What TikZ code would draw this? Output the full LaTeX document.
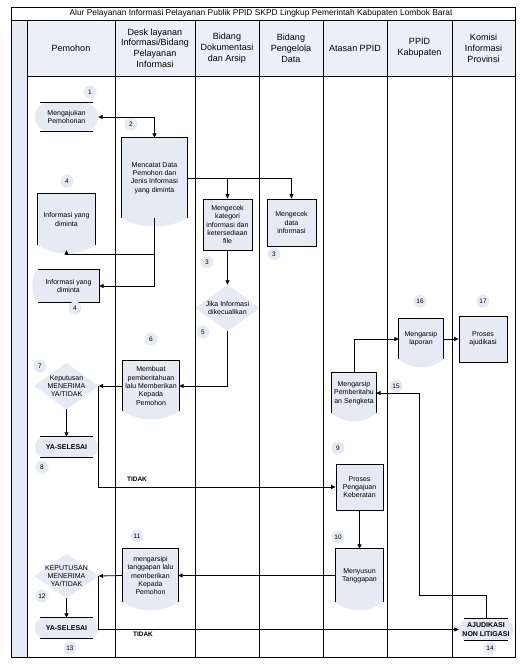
\documentclass[tikz,border=0pt]{standalone}
\usepackage{fontspec}
\setmainfont{Liberation Sans}
\usetikzlibrary{arrows.meta,calc,backgrounds}
\definecolor{lite}{RGB}{230,234,245}
\definecolor{hdrfill}{RGB}{236,239,248}
\newcommand\docshape[1]{%
  \begin{scope}[on background layer]
    \fill[lite] (#1.north west) -- (#1.north east) -- (#1.south east)
      .. controls ($(#1.south east)!0.3!(#1.south west)+(0,11)$) and ($(#1.south east)!0.7!(#1.south west)+(0,11)$) .. (#1.south west) -- cycle;
  \end{scope}
  \draw[ln] (#1.south west) -- (#1.north west) -- (#1.north east) -- (#1.south east);}
\newcommand\termshape[2]{%
  \begin{scope}[on background layer]
    \fill[lite, rounded corners=#2] (#1.north west) rectangle (#1.south east);
  \end{scope}
  \draw[ln] ($(#1.north west)+(5,0)$) -- ($(#1.north east)+(-5,0)$);
  \draw[ln] ($(#1.south west)+(5,0)$) -- ($(#1.south east)+(-5,0)$);}
\newcommand\diashape[1]{%
  \begin{scope}[on background layer]
    \fill[lite] (#1.west) -- (#1.north) -- (#1.east) -- (#1.south) -- cycle;
  \end{scope}}
\newcommand\leftbulge[1]{%
  \begin{scope}[on background layer]
    \fill[lite] (#1.north west) -- (#1.north east) -- (#1.south east) -- (#1.south west)
      .. controls ($(#1.south west)+(-7,0)$) and ($(#1.north west)+(-7,0)$) .. cycle;
  \end{scope}
  \draw[ln] (#1.north west) -- (#1.north east) -- (#1.south east) -- (#1.south west);}
\begin{document}
\begin{tikzpicture}[x=1pt,y=-1pt,
  ln/.style={line width=0.8pt},
  arr/.style={line width=0.8pt,-{Triangle[length=4.5pt,width=4pt]}},
  arrb/.style={line width=0.8pt,{Triangle[length=4.5pt,width=4pt]}-{Triangle[length=4.5pt,width=4pt]}},
  every node/.style={inner sep=0pt, align=center, font=\fontsize{7}{8.3}\selectfont},
  frm/.style 2 args={minimum width=#1, minimum height=#2},
  procbox/.style={draw, fill=lite, line width=0.8pt},
  numc/.style={circle, fill=lite, minimum size=13pt, font=\fontsize{6.5}{7}\selectfont},
  hdr/.style={font=\fontsize{9}{10.8}\selectfont},
  boldtxt/.style={font=\bfseries\fontsize{7}{8.3}\selectfont}
]
\useasboundingbox (0,0) rectangle (525,665);
% lanes
\fill[hdrfill] (27,20) rectangle (515,76);
\fill[lite] (11,20) rectangle (27,657);
\draw[ln] (11,7) rectangle (515,657);
\draw[ln] (11,20) -- (515,20);
\draw[ln] (27,76) -- (515,76);
\foreach \x in {27,115,195,259,323,387,452} \draw[ln] (\x,20) -- (\x,657);
% title and header
\node[font=\fontsize{8.4}{9}\selectfont] (title) at (261,13.5) {Alur Pelayanan Informasi Pelayanan Publik PPID SKPD Lingkup Pemerintah Kabupaten Lombok Barat};
\node[hdr] (h1) at (71,48) {Pemohon};
\node[hdr] (h2) at (155,48) {Desk layanan\\Informasi/Bidang\\Pelayanan\\Informasi};
\node[hdr] (h3) at (227,48) {Bidang\\Dokumentasi\\dan Arsip};
\node[hdr] (h4) at (291,48) {Bidang\\Pengelola\\Data};
\node[hdr] (h5) at (355,48) {Atasan PPID};
\node[hdr] (h6) at (419.5,48) {PPID\\Kabupaten};
\node[hdr] (h7) at (483.5,48) {Komisi\\Informasi\\Provinsi};
% nodes
\node[frm={63pt}{28pt}] (mengajukan) at (66.5,117) {Mengajukan\\Pemohonan};
\termshape{mengajukan}{14pt}
\node[frm={65pt}{80pt}] (mencatat) at (154.5,178) {Mencatat Data\\Pemohon dan\\Jenis Informasi\\yang diminta};
\docshape{mencatat}
\node[frm={57pt}{51pt}] (info1) at (66.5,219.5) {Informasi yang\\diminta};
\docshape{info1}
\node[procbox, frm={49pt}{51pt}] (cekkat) at (227.5,224.5) {Mengecek\\kategori\\informasi dan\\ketersediaan\\file};
\node[procbox, frm={49pt}{47pt}] (cekdata) at (291.5,222.5) {Mengecek\\data\\informasi};
\node[frm={64pt}{46pt}] (jika) at (227.5,308) {Jika Informasi\\dikecualikan};
\diashape{jika}
\node[frm={61pt}{32pt}] (info2) at (68.5,286) {Informasi yang\\diminta};
\leftbulge{info2}
\node[frm={56pt}{50pt}] (membuat) at (151,386) {Membuat\\pemberitahuan\\lalu Memberikan\\Kepada\\Pemohon};
\docshape{membuat}
\node[frm={64pt}{46pt}] (kep1) at (66.5,386) {Keputusan\\MENERIMA\\YA/TIDAK};
\diashape{kep1}
\node[frm={63pt}{20pt}, boldtxt] (ya1) at (66.5,447) {YA-SELESAI};
\termshape{ya1}{10pt}
\node[procbox, frm={47pt}{46pt}] (proses) at (359.5,487) {Proses\\Pengajuan\\Keberatan};
\node[frm={47pt}{53pt}] (menyusun) at (359.5,575.5) {Menyusun\\Tanggapan};
\docshape{menyusun}
\node[frm={55pt}{53pt}] (mengarsipi) at (150.5,575.5) {mengarsipi\\tanggapan lalu\\memberikan\\Kepada\\Pemohon};
\docshape{mengarsipi}
\node[frm={64pt}{44pt}] (kep2) at (66.5,576) {KEPUTUSAN\\MENERIMA\\YA/TIDAK};
\diashape{kep2}
\node[frm={63pt}{20pt}, boldtxt] (ya2) at (66.5,628) {YA-SELESAI};
\termshape{ya2}{10pt}
\node[frm={54pt}{21pt}, boldtxt] (ajud) at (486,629.5) {AJUDIKASI\\NON LITIGASI};
\termshape{ajud}{10pt}
\node[frm={44pt}{40pt}] (sengketa) at (354,393) {Mengarsip\\Pemberitahu\\an Sengketa};
\docshape{sengketa}
\node[frm={44pt}{40pt}] (laporan) at (421,339) {Mengarsip\\laporan};
\docshape{laporan}
\node[procbox, frm={48pt}{46pt}] (prosaj) at (483,339) {Proses\\ajudikasi};
% numbers
\node[numc] (n1) at (90,92) {1};
\node[numc] (n2) at (131,124) {2};
\node[numc] (n3a) at (207,262) {3};
\node[numc] (n3b) at (274,254) {3};
\node[numc] (n4a) at (67,181) {4};
\node[numc] (n4b) at (75,308) {4};
\node[numc] (n5) at (203,332) {5};
\node[numc] (n6) at (151,339) {6};
\node[numc] (n7) at (40,366) {7};
\node[numc] (n8) at (42,467) {8};
\node[numc] (n9) at (338,448) {9};
\node[numc] (n10) at (338,537) {10};
\node[numc] (n11) at (137,536) {11};
\node[numc] (n12) at (42,596) {12};
\node[numc] (n13) at (70,648) {13};
\node[numc] (n14) at (490,648) {14};
\node[numc] (n15) at (396,386) {15};
\node[numc] (n16) at (420,301) {16};
\node[numc] (n17) at (483,301) {17};
% connectors
\draw[arrb] (mengajukan.east) -| (mencatat.north);
\draw[arr] (mencatat.east) -| (cekkat.north);
\draw[arr] (mencatat.east) -| (cekdata.north);
\draw[arr] (cekkat.south) -- (jika.north);
\draw[arr] (jika.south) |- (membuat.east);
\draw[arr] (mencatat.south) -- ++(0,36) -| ($(info1.south)+(0,5)$);
\draw[arr] (mencatat.south) |- (info2.east);
\draw[arr] (membuat.west) -- (kep1.east);
\draw[arr] (kep1.south) -- (ya1.north);
\draw[arr] (kep1.east) |- (proses.west);
\node[font=\bfseries\fontsize{6.5}{7}\selectfont] (tidak1) at (137,479) {TIDAK};
\draw[arr] (proses.south) -- (menyusun.north);
\draw[arr] (menyusun.west) -- (mengarsipi.east);
\draw[arr] (mengarsipi.west) -- (kep2.east);
\draw[arr] (kep2.south) -- (ya2.north);
\draw[arr] (kep2.east) |- (ajud.west);
\node[font=\bfseries\fontsize{6.5}{7}\selectfont] (tidak2) at (143,634) {TIDAK};
\coordinate (t1) at (419,595);
\draw[arr] (ajud.north) |- (t1) |- (sengketa.east);
\draw[arr] (sengketa.north) |- (laporan.west);
\draw[arr] (laporan.east) -- (prosaj.west);
\end{tikzpicture}
\end{document}
